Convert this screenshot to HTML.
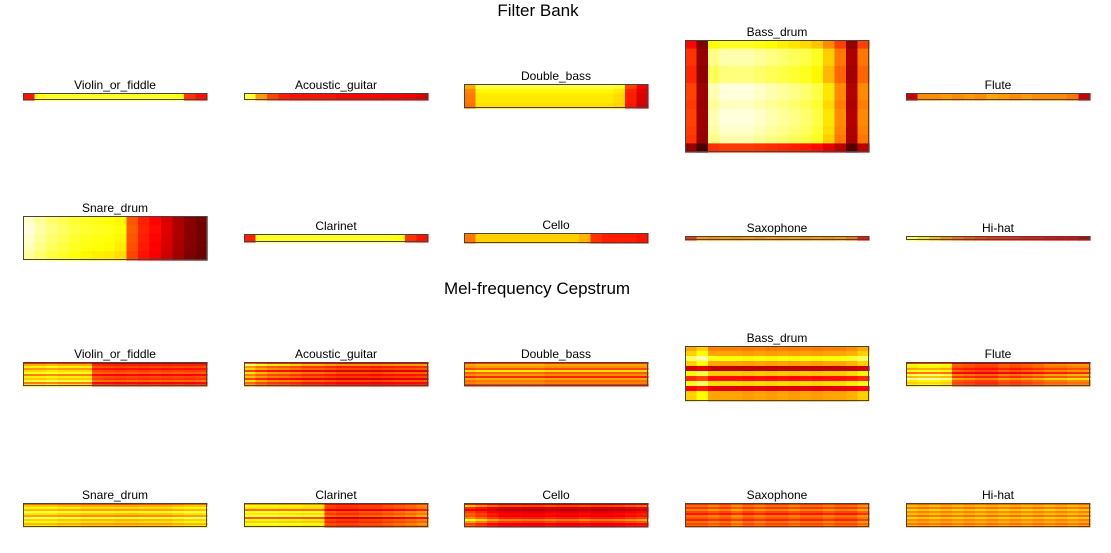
<!DOCTYPE html>
<html><head><meta charset="utf-8"><style>
html,body{margin:0;padding:0;background:#fff;}
body{width:1111px;height:553px;overflow:hidden;position:relative;font-family:"Liberation Sans","DejaVu Sans",sans-serif;}
svg{position:absolute;left:0;top:0;}
</style></head><body>
<svg id="fig" width="1111" height="553">
<text x="538" y="16" font-size="17" text-anchor="middle" fill="#000">Filter Bank</text>
<text x="537" y="294" font-size="17" text-anchor="middle" fill="#000">Mel-frequency Cepstrum</text>
</svg>
<script>
// titles of each panel
const names = ["Violin_or_fiddle","Acoustic_guitar","Double_bass","Bass_drum","Flute","Snare_drum","Clarinet","Cello","Saxophone","Hi-hat"];
// Filter bank column profiles (hot colormap value 0..1)
const fbCols = [
 [0.4,0.77,0.78,0.78,0.78,0.78,0.78,0.78,0.78,0.78,0.78,0.78,0.78,0.76,0.45,0.4],
 [0.8,0.6,0.48,0.42,0.4,0.4,0.4,0.4,0.38,0.38,0.38,0.38,0.37,0.37,0.36,0.33],
 [0.6,0.78,0.78,0.78,0.78,0.78,0.78,0.78,0.78,0.78,0.78,0.78,0.78,0.76,0.45,0.35],
 [0.45,0.22,0.88,0.92,0.92,0.92,0.9,0.88,0.86,0.84,0.82,0.78,0.68,0.55,0.25,0.55],
 [0.3,0.58,0.58,0.6,0.58,0.6,0.58,0.62,0.6,0.58,0.6,0.58,0.58,0.58,0.55,0.3],
 [0.95,0.9,0.86,0.83,0.8,0.78,0.77,0.76,0.74,0.5,0.42,0.38,0.32,0.25,0.2,0.17],
 [0.42,0.78,0.78,0.78,0.78,0.78,0.78,0.78,0.78,0.78,0.78,0.78,0.78,0.76,0.45,0.4],
 [0.55,0.68,0.68,0.68,0.68,0.68,0.68,0.68,0.68,0.68,0.64,0.45,0.42,0.42,0.42,0.4],
 [0.45,0.6,0.58,0.6,0.58,0.6,0.58,0.6,0.58,0.6,0.58,0.6,0.58,0.6,0.55,0.4],
 [0.82,0.72,0.65,0.58,0.53,0.49,0.46,0.44,0.43,0.42,0.4,0.4,0.38,0.37,0.35,0.3]
];
// Filter bank row profiles (multipliers)
const fbRows = [
 [1],[1],[1.05,0.95,0.92,0.92,0.9],
 [0.85,1,1,0.95,0.95,1.05,1.05,1.02,1.05,1.05,1.03,1,0.5],
 [1],[1,1.02,1,0.98,0.95],[1],[1],[1],[1]
];
// MFCC column profiles
const mfCols = [
 [0.7,0.7,0.72,0.7,0.7,0.7,0.48,0.47,0.46,0.47,0.46,0.47,0.46,0.47,0.46,0.47],
 [0.66,0.6,0.56,0.55,0.53,0.5,0.5,0.48,0.46,0.46,0.46,0.45,0.46,0.47,0.47,0.48],
 [0.56,0.58,0.58,0.58,0.58,0.58,0.58,0.56,0.56,0.56,0.56,0.56,0.56,0.56,0.56,0.56],
 [0.62,0.68,0.56,0.56,0.56,0.55,0.56,0.55,0.56,0.55,0.56,0.55,0.56,0.56,0.58,0.62],
 [0.72,0.74,0.74,0.72,0.5,0.48,0.46,0.46,0.5,0.48,0.5,0.52,0.55,0.55,0.57,0.57],
 [0.68,0.68,0.68,0.66,0.66,0.64,0.64,0.64,0.63,0.63,0.64,0.64,0.64,0.66,0.68,0.68],
 [0.72,0.72,0.72,0.71,0.71,0.7,0.7,0.46,0.44,0.44,0.46,0.46,0.48,0.5,0.52,0.55],
 [0.52,0.47,0.42,0.38,0.38,0.37,0.37,0.39,0.37,0.37,0.39,0.37,0.37,0.38,0.4,0.42],
 [0.5,0.5,0.53,0.5,0.55,0.5,0.53,0.5,0.5,0.53,0.5,0.5,0.53,0.5,0.5,0.55],
 [0.58,0.56,0.58,0.56,0.58,0.56,0.58,0.56,0.58,0.56,0.58,0.56,0.58,0.56,0.58,0.56]
];
// MFCC row profiles (multipliers)
const mfRows = [
 [0.6,0.9,1.05,0.85,1,1.1,0.8,1.05,0.95,1.15,0.8,1],
 [0.75,1.3,0.9,1.05,0.7,1.1,0.85,1,0.7,1.05,0.8,0.9],
 [0.75,1.1,1.05,0.85,1.25,0.9,1.05,0.75,1.1,0.95,1,0.8],
 [1,1.1,1.35,1.1,0.5,1.2,0.7,1.25,0.6,1.1,1.1],
 [0.6,1.05,1,0.85,1.05,0.75,1.15,0.9,1.25,1,0.95,1],
 [0.75,1,1.1,0.95,1.2,1.05,0.9,1.25,1,1.1,0.95,1.05],
 [0.8,1.05,1,0.75,1.1,1,1.15,0.7,1.05,0.95,1.1,1],
 [0.75,1.3,0.85,0.7,0.9,1,0.95,1.1,1.5,1.2,0.9,1],
 [0.85,1.1,0.9,1.15,0.95,0.8,1.1,1,0.85,1.1,0.95,1.05],
 [0.9,1.15,0.95,1.2,1,1.15,0.95,1.2,1,1.1,0.95,1.1]
];
const colX=[23,244,464,685,906], W=184;
const fbBox=[[93,7],[93,7],[84,24],[40,112],[93,7],[216,44],[234,8],[233,10],[236,4],[236,4]];
const mfBox=[[362,24],[362,24],[362,24],[346,55],[362,24],[503,24],[503,24],[503,24],[503,24],[503,24]];
function hot(v){v=Math.max(0,Math.min(1,v));
 const r=Math.min(1,v/0.375),g=Math.max(0,Math.min(1,(v-0.375)/0.375)),b=Math.max(0,(v-0.75)/0.25);
 return `rgb(${Math.round(r*255)},${Math.round(g*255)},${Math.round(b*255)})`;}
const svg=document.getElementById('fig');const NS='http://www.w3.org/2000/svg';
function panel(i,box,cols,rows,prefix){
 const x0=colX[i%5],[y0,h]=box;
 const g=document.createElementNS(NS,'g');
 
 
 const nc=cols.length,nr=rows.length,cw=W/nc,rh=h/nr;
 for(let r=0;r<nr;r++)for(let c=0;c<nc;c++){
  const e=document.createElementNS(NS,'rect');
  e.setAttribute('x',x0+c*cw);e.setAttribute('y',y0+r*rh);
  e.setAttribute('width',cw+0.6);e.setAttribute('height',rh+0.6);
  e.setAttribute('fill',hot(cols[c]*rows[r]));
  
  
  g.appendChild(e);}
 const f=document.createElementNS(NS,'rect');
 f.setAttribute('x',x0+0.5);f.setAttribute('y',y0+0.5);f.setAttribute('width',W-1);f.setAttribute('height',h-1);
 f.setAttribute('fill','none');f.setAttribute('stroke','#444');f.setAttribute('stroke-width','1');
 
 
 g.appendChild(f);
 const t=document.createElementNS(NS,'text');
 t.setAttribute('x',x0+W/2);t.setAttribute('y',y0-4);t.setAttribute('font-size','12');
 t.setAttribute('text-anchor','middle');t.textContent=names[i];
 
 
 g.appendChild(t);
 svg.appendChild(g);}
for(let i=0;i<10;i++){panel(i,fbBox[i],fbCols[i],fbRows[i],'fb');panel(i,mfBox[i],mfCols[i],mfRows[i],'mfcc');}
</script>
</body></html>
